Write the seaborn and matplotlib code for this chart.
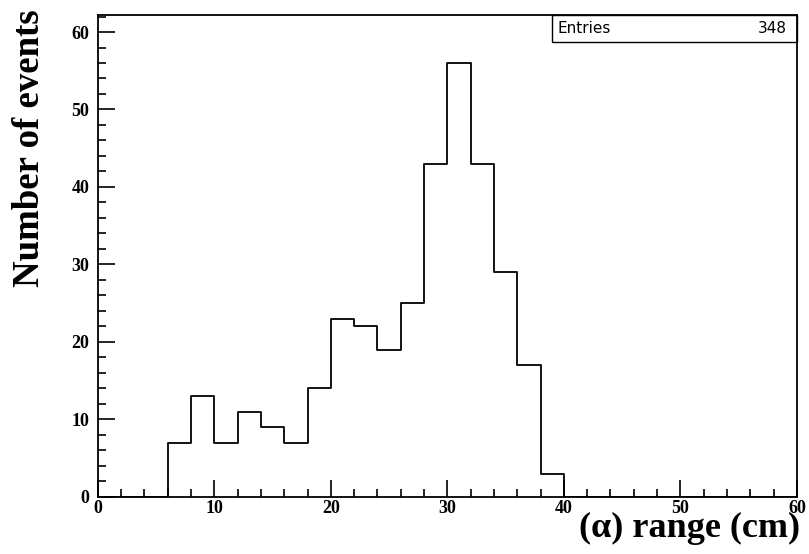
import numpy as np
import pandas as pd
import seaborn as sns
import matplotlib.pyplot as plt
from matplotlib.ticker import MultipleLocator

# histogram content, 2 cm bins
bin_left = [6, 8, 10, 12, 14, 16, 18, 20, 22, 24, 26, 28, 30, 32, 34, 36, 38]
counts = [7, 13, 7, 11, 9, 7, 14, 23, 22, 19, 25, 43, 56, 43, 29, 17, 3]
bin_width = 2
x_range = (0, 60)

df = pd.DataFrame({'range': np.array(bin_left) + bin_width / 2, 'n': counts})

sns.set_style('ticks')
plt.rcParams['font.family'] = ['Liberation Serif', 'DejaVu Serif']
plt.rcParams['text.color'] = 'black'

fig = plt.figure(figsize=(8.09, 5.54), dpi=100)
ax = fig.add_axes([0.121, 0.103, 0.864, 0.870])

sns.histplot(data=df, x='range', weights='n', binwidth=bin_width, binrange=x_range,
             element='step', fill=False, color='black', linewidth=1.3, ax=ax)

ax.set_xlim(*x_range)
ax.set_ylim(0, 62.2)
ax.xaxis.set_major_locator(MultipleLocator(10))
ax.xaxis.set_minor_locator(MultipleLocator(2))
ax.yaxis.set_major_locator(MultipleLocator(10))
ax.yaxis.set_minor_locator(MultipleLocator(2))
ax.tick_params(which='both', direction='in', colors='black', labelcolor='black', width=1.2)
ax.tick_params(which='major', length=12, labelsize=13)
ax.tick_params(axis='x', which='major', pad=2)
ax.tick_params(axis='y', which='major', pad=6)
ax.tick_params(which='minor', length=6)
for lab in ax.get_xticklabels() + ax.get_yticklabels():
    lab.set_fontweight('bold')
for sp in ax.spines.values():
    sp.set_visible(True)
    sp.set_linewidth(1.3)
    sp.set_color('black')

ax.set_xlabel('')
ax.set_ylabel('')
fig.text(0.036, 0.733, 'Number of events', rotation=90, ha='center', va='center',
         fontsize=26.5, fontweight='bold', color='black')
fig.text(0.989, 0.030, '(α) range (cm)', ha='right', va='baseline',
         fontsize=26, fontweight='bold', color='black')

# stats box
ax.text(0.657, 0.988, 'Entries', transform=ax.transAxes, ha='left', va='top',
        fontsize=11, family='DejaVu Sans', color='black')
ax.text(0.985, 0.988, str(sum(counts)), transform=ax.transAxes, ha='right', va='top',
        fontsize=11, family='DejaVu Sans', color='black')
ax.add_patch(plt.Rectangle((0.649, 0.944), 0.351, 0.056, transform=ax.transAxes,
                           fill=False, edgecolor='black', linewidth=1.0, clip_on=False))

fig.savefig('out.png', dpi=100)
